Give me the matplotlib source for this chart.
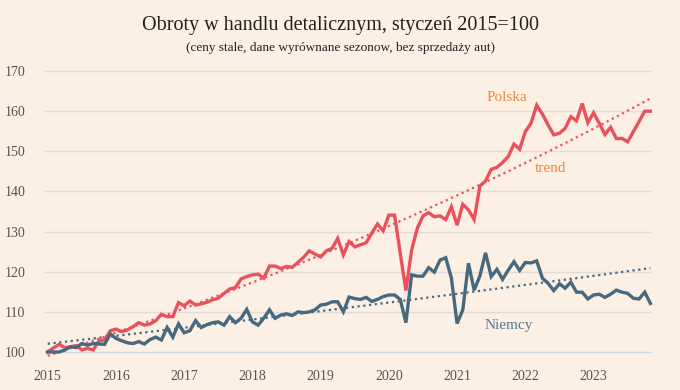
import numpy as np
import matplotlib
matplotlib.use("Agg")
import matplotlib.pyplot as plt

# monthly index, Jan 2015 = 100 (Jan 2015 .. Nov 2023)
polska = [100.0, 101.0, 101.9, 101.1, 101.3, 101.6, 100.5, 100.9, 100.5, 102.8, 103.0, 105.3,
          105.7, 105.1, 105.5, 106.3, 107.3, 106.7, 107.0, 107.8, 109.4, 108.8, 108.8, 112.3,
          111.5, 112.7, 111.7, 112.0, 112.4, 113.0, 113.4, 114.6, 115.7, 116.0, 118.2, 118.8,
          119.2, 119.4, 118.4, 121.4, 121.4, 120.8, 121.3, 121.1, 122.3, 123.6, 125.2, 124.4,
          123.7, 125.2, 125.8, 128.3, 124.2, 127.5, 126.2, 126.7, 127.2, 129.6, 131.9, 130.2,
          134.1, 134.1, 124.6, 115.3, 125.4, 130.8, 133.9, 134.7, 133.7, 133.9, 133.0, 136.2,
          131.6, 136.8, 135.4, 133.0, 141.3, 142.6, 145.5, 146.0, 147.2, 148.7, 151.8, 150.5,
          154.9, 157.0, 161.5, 159.3, 156.6, 154.1, 154.5, 155.7, 158.6, 157.6, 161.9, 157.1,
          159.6, 157.0, 154.2, 156.0, 153.2, 153.2, 152.4, 154.9, 157.4, 160.0, 160.0]
niemcy = [100.0, 100.0, 100.0, 100.5, 101.3, 101.1, 102.1, 101.7, 102.1, 102.0, 101.9, 104.5,
          103.4, 102.8, 102.3, 102.1, 102.6, 102.0, 103.1, 103.7, 103.0, 106.1, 103.7, 107.0,
          104.8, 105.3, 107.8, 106.1, 106.8, 107.3, 107.5, 106.7, 108.8, 107.3, 108.4, 110.6,
          107.5, 106.7, 108.4, 110.5, 108.4, 109.2, 109.5, 109.1, 110.0, 109.8, 110.0, 110.5,
          111.7, 111.9, 112.5, 112.5, 110.0, 113.7, 113.3, 113.1, 113.6, 112.6, 113.1, 113.8,
          114.2, 114.2, 113.1, 107.3, 119.2, 118.9, 118.9, 121.0, 119.9, 122.9, 123.5, 118.4,
          107.1, 110.5, 122.1, 115.4, 118.9, 124.7, 118.8, 120.6, 118.1, 120.4, 122.5, 120.3,
          122.3, 122.2, 122.7, 118.4, 117.1, 115.3, 117.0, 115.9, 117.4, 114.9, 114.9, 113.2,
          114.2, 114.4, 113.6, 114.4, 115.4, 114.9, 114.6, 113.4, 113.2, 114.9, 112.1]
years = [2015, 2016, 2017, 2018, 2019, 2020, 2021, 2022, 2023]
yticks = [100, 110, 120, 130, 140, 150, 160, 170]

bg = "#fcefe4"
red = "#e9525d"
blue = "#46697f"
orange = "#e98a3f"
serif = "Liberation Serif"

months = np.arange(len(polska))


def trend(vals):
    # exponential trend fitted on the log of the series
    k, b = np.polyfit(months, np.log(vals), 1)
    return np.exp(b + k * months)


fig = plt.figure(figsize=(6.8, 3.9), dpi=100, facecolor=bg)
ax = fig.add_axes([0.066, 0.0769, 0.893, 0.7615], facecolor=bg)

for y in yticks[1:]:
    ax.axhline(y, color="#e3dcd6", lw=1, zorder=0)
ax.axhline(100, color="#cfdbe0", lw=1, zorder=0)

ax.plot(months, trend(polska), color=red, lw=1.6, ls=(0, (1, 1.6)), zorder=2)
ax.plot(months, trend(niemcy), color=blue, lw=1.6, ls=(0, (1, 1.6)), zorder=2)
ax.plot(months, polska, color=red, lw=2.4, zorder=3, clip_on=False, solid_joinstyle="miter")
ax.plot(months, niemcy, color=blue, lw=2.4, zorder=3, clip_on=False, solid_joinstyle="miter")

ax.set_xlim(-0.5, 106.3)
ax.set_ylim(98, 172)
ax.set_xticks([12 * i for i in range(len(years))])
ax.set_xticklabels([str(y) for y in years])
ax.set_yticks(yticks)
ax.set_yticklabels([str(y) for y in yticks])
ax.tick_params(length=0, labelsize=10, labelcolor="#555555")
ax.tick_params(axis="x", pad=7)
ax.tick_params(axis="y", pad=14)
for lab in ax.get_xticklabels() + ax.get_yticklabels():
    lab.set_fontfamily(serif)
for s in ax.spines.values():
    s.set_visible(False)

ax.text(80.8, 163.5, "Polska", color=orange, fontsize=11, family=serif, ha="center", va="center")
ax.text(88.4, 145.6, "trend", color=orange, fontsize=11, family=serif, ha="center", va="center")
ax.text(81.0, 106.7, "Niemcy", color="#557a90", fontsize=11, family=serif, ha="center", va="center")

fig.text(0.5, 0.935, "Obroty w handlu detalicznym, styczeń 2015=100", ha="center", va="center",
         fontsize=14.5, family=serif, color="#222222")
fig.text(0.5, 0.878, "(ceny stale, dane wyrównane sezonow, bez sprzedaży aut)", ha="center",
         va="center", fontsize=9.5, family=serif, color="#222222")

fig.savefig("out.png", dpi=100, facecolor=bg)
